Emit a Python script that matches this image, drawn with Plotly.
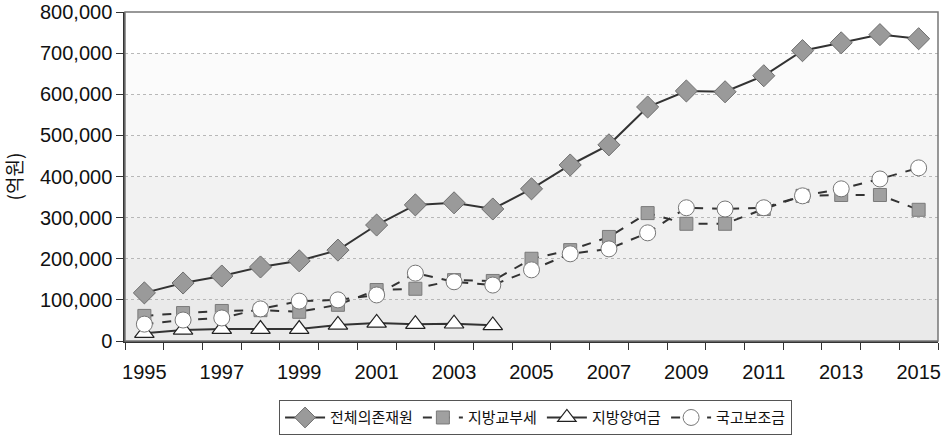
import plotly.graph_objects as go

years = list(range(1995, 2016))

total_dep = [117000, 141000, 158000, 180000, 195000, 221000, 282000, 331000, 336000, 321000,
             370000, 428000, 477000, 569000, 608000, 606000, 645000, 706000, 725000, 745000, 735000]
local_grant = [61000, 68000, 73000, 75000, 71000, 88000, 124000, 127000, 148000, 146000,
               200000, 221000, 253000, 311000, 285000, 285000, 321000, 353000, 355000, 355000, 319000]
transfer_years = list(range(1995, 2005))
local_transfer = [19000, 27000, 29000, 29000, 29000, 39000, 44000, 41000, 42000, 38000]
subsidy = [41000, 51000, 56000, 78000, 97000, 100000, 112000, 165000, 144000, 136000,
           173000, 212000, 224000, 263000, 324000, 321000, 324000, 353000, 370000, 394000, 421000]

fig = go.Figure()
fig.add_trace(go.Scatter(x=years, y=total_dep, name="전체의존재원", mode="lines+markers",
                         line=dict(color="#333333", width=2),
                         marker=dict(symbol="diamond", size=17, color="#9a9a9a",
                                     line=dict(color="#6e6e6e", width=1))))
fig.add_trace(go.Scatter(x=years, y=local_grant, name="지방교부세", mode="lines+markers",
                         line=dict(color="#333333", width=2, dash="dash"),
                         marker=dict(symbol="square", size=13, color="#a0a0a0",
                                     line=dict(color="#7a7a7a", width=1))))
fig.add_trace(go.Scatter(x=transfer_years, y=local_transfer, name="지방양여금", mode="lines+markers",
                         line=dict(color="#333333", width=2),
                         marker=dict(symbol="triangle-up", size=17, color="white",
                                     line=dict(color="#222222", width=1.2))))
fig.add_trace(go.Scatter(x=years, y=subsidy, name="국고보조금", mode="lines+markers",
                         line=dict(color="#333333", width=2, dash="dash"),
                         marker=dict(symbol="circle", size=16, color="white",
                                     line=dict(color="#777777", width=1))))

# soft vertical gradient behind the plot
bands = ["#eaeaea", "#ededed", "#f0f0f0", "#f2f2f2", "#f5f5f5", "#f8f8f8", "#fbfbfb", "#ffffff"]
for i, c in enumerate(bands):
    fig.add_shape(type="rect", xref="paper", yref="y", x0=0, x1=1, y0=i * 100000, y1=(i + 1) * 100000,
                  fillcolor=c, line_width=0, layer="below")
fig.add_shape(type="rect", xref="paper", yref="paper", x0=0, x1=1, y0=0, y1=1,
              line=dict(color="#777777", width=1.5), layer="above")

fig.update_layout(
    width=945, height=443,
    margin=dict(l=125, r=7, t=12, b=102, autoexpand=False),
    paper_bgcolor="white", plot_bgcolor="white",
    font=dict(family="Liberation Sans, Arial", size=20, color="#111111"),
    showlegend=True,
    legend=dict(orientation="h", x=0.505, xanchor="center", y=-0.18, yanchor="top",
                bordercolor="#555555", borderwidth=1,
                font=dict(family="Noto Sans CJK KR", size=15, color="#111111"),
                itemwidth=40, tracegroupgap=0),
)
fig.update_xaxes(range=[1994.5, 2015.5], tickmode="linear", tick0=1995, dtick=2,
                 ticks="", showgrid=False, zeroline=False, automargin=False,
                 ticklabelstandoff=12, ticklabeloverflow="allow",
                 showline=True, linecolor="#333333", linewidth=1.5,
                 minor=dict(ticks="outside", tick0=1994.5, dtick=1, ticklen=7,
                            tickcolor="#333333", showgrid=False))
fig.update_yaxes(range=[0, 800000], dtick=100000, tickformat=",d", automargin=False,
                 ticks="outside", ticklen=7, tickcolor="#333333",
                 showgrid=True, gridcolor="#b8b8b8", griddash="dot", gridwidth=1,
                 zeroline=False, showline=True, linecolor="#333333", linewidth=1.5,
                 title=dict(text="(억원)", font=dict(family="Noto Sans CJK KR", size=19), standoff=26))

# drop the browser's default body margin so the figure sits at the page corner
fig.write_html("out.html", config={"displayModeBar": False},
               post_script="document.body.style.margin = '0';")
